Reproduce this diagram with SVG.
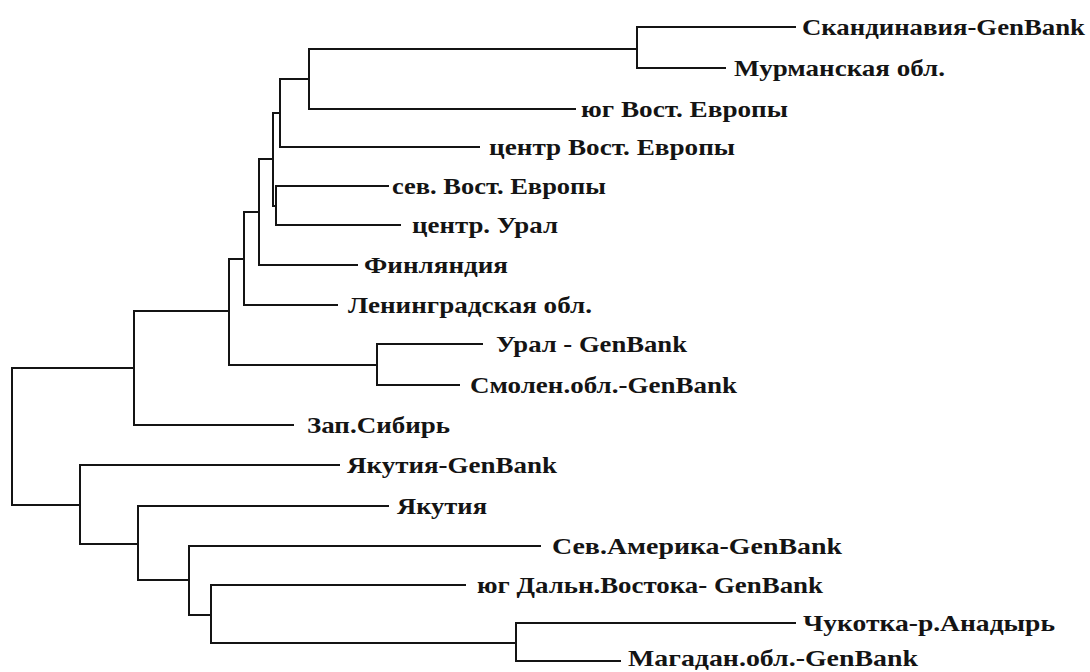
<svg xmlns="http://www.w3.org/2000/svg" width="1090" height="672" viewBox="0 0 1090 672">
<style>
.e{fill:none;stroke:#141414;stroke-width:2;stroke-linecap:square}
.t{font-family:"Liberation Serif","Times New Roman",serif;font-weight:bold;font-size:24px;fill:#141414}
</style>
<rect width="1090" height="672" fill="#fff"/>
<g id="connectors">
<path class="e" d="M12,368V505M12,368H134M12,505H80"/>
<path class="e" d="M134,311V425M134,311H229M134,425H293"/>
<path class="e" d="M229,259V365M229,259H244M229,365H377"/>
<path class="e" d="M377,344V385M377,344H482M377,385H459"/>
<path class="e" d="M244,212V305M244,212H259M244,305H337"/>
<path class="e" d="M259,159V265M259,159H273M259,265H357"/>
<path class="e" d="M273,113V206M273,113H280M273,206H276"/>
<path class="e" d="M276,186V225M276,186H388M276,225H400"/>
<path class="e" d="M280,79V147M280,79H309M280,147H479"/>
<path class="e" d="M309,49V109M309,49H637M309,109H575"/>
<path class="e" d="M637,27V68M637,27H795M637,68H725"/>
<path class="e" d="M80,465V544M80,465H339M80,544H138"/>
<path class="e" d="M138,506V580M138,506H388M138,580H189"/>
<path class="e" d="M189,546V615M189,546H540M189,615H211"/>
<path class="e" d="M211,585V643M211,585H465M211,643H516"/>
<path class="e" d="M516,623V661M516,623H795M516,661H620"/>
</g>
<g id="n-scand"><text class="t" x="802" y="35" textLength="283" lengthAdjust="spacingAndGlyphs">Скандинавия-GenBank</text></g>
<g id="n-murm"><text class="t" x="734" y="76" textLength="211" lengthAdjust="spacingAndGlyphs">Мурманская обл.</text></g>
<g id="n-yug-ve"><text class="t" x="581" y="117" textLength="207" lengthAdjust="spacingAndGlyphs">юг Вост. Европы</text></g>
<g id="n-centr-ve"><text class="t" x="489" y="155" textLength="246" lengthAdjust="spacingAndGlyphs">центр Вост. Европы</text></g>
<g id="n-sev-ve"><text class="t" x="392" y="194" textLength="214" lengthAdjust="spacingAndGlyphs">сев. Вост. Европы</text></g>
<g id="n-centr-ural"><text class="t" x="412" y="233" textLength="146" lengthAdjust="spacingAndGlyphs">центр. Урал</text></g>
<g id="n-fin"><text class="t" x="364" y="273" textLength="144" lengthAdjust="spacingAndGlyphs">Финляндия</text></g>
<g id="n-len"><text class="t" x="348" y="313" textLength="244" lengthAdjust="spacingAndGlyphs">Ленинградская обл.</text></g>
<g id="n-ural-gb"><text class="t" x="496" y="352" textLength="191" lengthAdjust="spacingAndGlyphs">Урал - GenBank</text></g>
<g id="n-smol"><text class="t" x="470" y="393" textLength="267" lengthAdjust="spacingAndGlyphs">Смолен.обл.-GenBank</text></g>
<g id="n-zapsib"><text class="t" x="307" y="433" textLength="143" lengthAdjust="spacingAndGlyphs">Зап.Сибирь</text></g>
<g id="n-yak-gb"><text class="t" x="347" y="473" textLength="210" lengthAdjust="spacingAndGlyphs">Якутия-GenBank</text></g>
<g id="n-yak"><text class="t" x="397" y="514" textLength="90" lengthAdjust="spacingAndGlyphs">Якутия</text></g>
<g id="n-sevam"><text class="t" x="552" y="554" textLength="290" lengthAdjust="spacingAndGlyphs">Сев.Америка-GenBank</text></g>
<g id="n-yug-dv"><text class="t" x="477" y="593" textLength="346" lengthAdjust="spacingAndGlyphs">юг Дальн.Востока- GenBank</text></g>
<g id="n-chuk"><text class="t" x="803" y="631" textLength="252" lengthAdjust="spacingAndGlyphs">Чукотка-р.Анадырь</text></g>
<g id="n-mag"><text class="t" x="628" y="666" textLength="290" lengthAdjust="spacingAndGlyphs">Магадан.обл.-GenBank</text></g>
</svg>
